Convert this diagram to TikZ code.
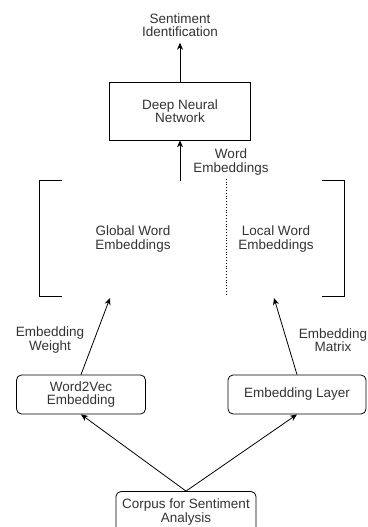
\documentclass[tikz,border=0pt]{standalone}
\usepackage{fontspec}
\setmainfont{Liberation Sans}
\usetikzlibrary{arrows.meta}

\begin{document}
\begin{tikzpicture}[x=1pt,y=-1pt,
  every node/.style={font=\fontsize{13.5}{13.5}\selectfont, text=black!80, align=center, inner sep=0pt},
  box/.style={draw, line width=0.8pt, minimum height=39pt},
  rbox/.style={box, rounded corners=5pt},
  arr/.style={-{Stealth[length=7pt,width=6pt]}, line width=0.8pt}]
\useasboundingbox (0,0) rectangle (367,527);
\node[outer sep=6pt] (sent) at (180,25) {Sentiment\\Identification};
\node[box, minimum width=141pt, minimum height=58pt] (dnn) at (180,111) {Deep Neural\\Network};
\node (wlbl) at (231,162) {Word\\Embeddings};
\node[minimum width=304pt, minimum height=115pt] (emb) at (192,238.5) {};
\node (glob) at (133,239) {Global Word\\Embeddings};
\node (loc) at (276,239) {Local Word\\Embeddings};
\node (wlab) at (50,340) {Embedding\\Weight};
\node (mlab) at (333,340) {Embedding\\Matrix};
\node[rbox, minimum width=129pt] (w2v) at (81,394.5) {Word2Vec\\Embedding};
\node[rbox, minimum width=138pt] (elay) at (297,394.5) {Embedding Layer};
\node[rbox, minimum width=140pt, minimum height=41pt] (corp) at (186,512) {Corpus for Sentiment\\Analysis};
\coordinate (gtip) at (110,298);
\coordinate (ltip) at (274,298);
\coordinate (split) at (226,0);
% brackets round the two kinds of embeddings
\draw[line width=0.8pt] ([xshift=22pt]emb.north west) -- (emb.north west)
  -- (emb.south west) -- ([xshift=22pt]emb.south west);
\draw[line width=0.8pt] ([xshift=-22pt]emb.north east) -- (emb.north east)
  -- (emb.south east) -- ([xshift=-22pt]emb.south east);
\draw[dotted, line width=0.8pt] ([yshift=2pt]emb.north -| split) -- (emb.south -| split);
% flow
\draw[arr] (dnn.north) -- (sent.south);
\draw[arr] (emb.north -| dnn) -- (dnn.south);
\draw[arr] (w2v.north) -- (gtip);
\draw[arr] (elay.north) -- (ltip);
\draw[arr] (corp.north) -- (w2v.south);
\draw[arr] (corp.north) -- (elay.south);
\end{tikzpicture}
\end{document}
